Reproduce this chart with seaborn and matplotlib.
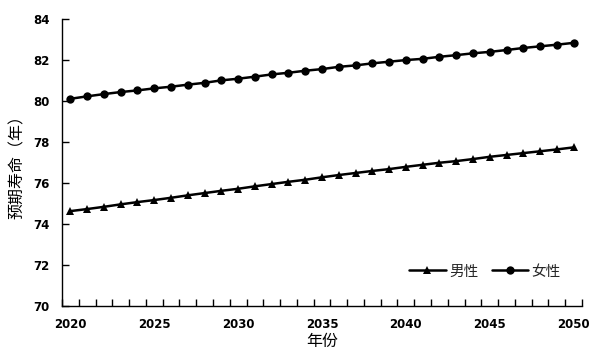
import matplotlib
matplotlib.use("Agg")
import matplotlib.pyplot as plt
from matplotlib.ticker import MultipleLocator, FixedLocator
import seaborn as sns
import pandas as pd

years = list(range(2020, 2051))
male = [74.63, 74.73, 74.84, 74.96, 75.07, 75.17, 75.28, 75.40, 75.51, 75.62, 75.72,
        75.84, 75.95, 76.06, 76.16, 76.28, 76.39, 76.49, 76.59, 76.68, 76.79,
        76.89, 76.99, 77.07, 77.17, 77.28, 77.37, 77.46, 77.55, 77.64, 77.74]
female = [80.11, 80.23, 80.34, 80.44, 80.52, 80.62, 80.70, 80.80, 80.89, 81.01, 81.09,
          81.19, 81.30, 81.38, 81.48, 81.56, 81.67, 81.74, 81.84, 81.92, 82.00,
          82.06, 82.16, 82.24, 82.33, 82.40, 82.49, 82.59, 82.67, 82.75, 82.84]
series_names = ["男性", "女性"]
x_ticks = [2020, 2025, 2030, 2035, 2040, 2045, 2050]
y_ticks = [70, 72, 74, 76, 78, 80, 82, 84]
x_label = "年份"
y_label = "预期寿命（年）"

df = pd.DataFrame({
    "年份": years * 2,
    "寿命": male + female,
    "性别": [series_names[0]] * len(years) + [series_names[1]] * len(years),
})

sns.set_theme(style="ticks")
plt.rcParams["font.family"] = ["DejaVu Sans", "Noto Sans CJK SC"]
cjk = ["Noto Sans CJK SC", "DejaVu Sans"]

fig = plt.figure(figsize=(6, 3.6), dpi=100)
ax = fig.add_axes([0.1033, 0.15, 0.8667, 0.797])

sns.lineplot(data=df, x="年份", y="寿命", hue="性别", style="性别",
             markers={series_names[0]: "^", series_names[1]: "o"},
             dashes=False, palette={series_names[0]: "black", series_names[1]: "black"},
             linewidth=1.8, markersize=6, markeredgewidth=0, ax=ax)

ax.set_xlim(2019.5, 2050.5)
ax.set_ylim(70, 84)
ax.xaxis.set_major_locator(FixedLocator(x_ticks))
ax.xaxis.set_minor_locator(MultipleLocator(1, offset=0.5))
ax.yaxis.set_major_locator(FixedLocator(y_ticks))
ax.tick_params(axis="x", which="major", length=0, pad=9, labelsize=8.5, colors="black")
ax.tick_params(axis="x", which="minor", direction="in", length=5, width=1, color="black")
ax.tick_params(axis="y", which="major", direction="in", length=5, width=1, pad=9,
               labelsize=8.5, colors="black")
for lbl in ax.get_xticklabels() + ax.get_yticklabels():
    lbl.set_fontweight("bold")

for side in ["top", "right"]:
    ax.spines[side].set_visible(False)
for side in ["left", "bottom"]:
    ax.spines[side].set_color("black")
    ax.spines[side].set_linewidth(1)

ax.set_xlabel(x_label, family=cjk, fontsize=11.5, labelpad=1, color="black")
ax.set_ylabel(y_label, family=cjk, fontsize=11.5, labelpad=5, color="black")

leg = ax.legend(loc="lower right", bbox_to_anchor=(0.985, 0.05), ncol=2, frameon=False,
                prop={"family": cjk, "size": 10.5}, handlelength=2.5, columnspacing=0.9,
                handletextpad=0.25)

fig.savefig("out.png", dpi=100)
